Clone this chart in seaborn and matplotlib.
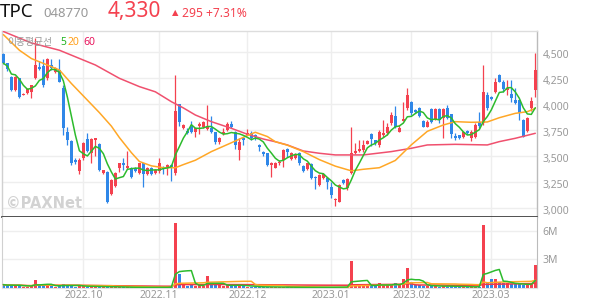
import numpy as np
import pandas as pd
import matplotlib
matplotlib.use('Agg')
import matplotlib.pyplot as plt
import matplotlib.transforms as mtransforms
import seaborn as sns

sns.set_style('white')
plt.rcParams['font.family'] = ['Noto Sans', 'DejaVu Sans']

# ---------------- data ----------------
opens = [4480, 4395, 4266, 4138, 4250, 4090, 4110, 4115, 4250, 4362,
         4370, 4250, 4378, 4314, 4330, 4154, 3731, 3647, 3465, 3360,
         3481, 3663, 3530, 3655, 3620, 3340, 3346, 3135, 3212, 3390,
         3435, 3385, 3390, 3385, 3337, 3433, 3327, 3390, 3340, 3355,
         3400, 3390, 3420, 3337, 4000, 3770, 3745, 3801, 3737, 3792,
         3785, 3763, 3776, 3730, 3637, 3710, 3753, 3814, 3730, 3561,
         3673, 3705, 3720, 3705, 3609, 3545, 3530, 3420, 3390, 3440,
         3465, 3570, 3475, 3480, 3530, 3410, 3378, 3423, 3305, 3225,
         3290, 3295, 3200, 3075, 3064, 3272, 3192, 3337, 3530, 3550,
         3557, 3622, 3718, 3657, 3609, 3705, 3721, 3817, 3891, 3737,
         3843, 3962, 4026, 3942, 3968, 3840, 3785, 3952, 3859, 3955,
         3865, 3968, 3904, 3698, 3700, 3690, 3745, 3680, 3690, 3827,
         3817, 4090, 4074, 4122, 4282, 4218, 4138, 4096, 4042, 4042,
         3850, 3743, 3968, 4138]
highs = [4490, 4400, 4276, 4270, 4256, 4105, 4160, 4190, 4637, 4420,
         4440, 4445, 4440, 4362, 4440, 4186, 3785, 3660, 3480, 3480,
         3640, 3720, 3680, 3680, 3625, 3370, 3355, 3280, 3345, 3440,
         3480, 3550, 3400, 3400, 3440, 3440, 3400, 3400, 3380, 3480,
         3410, 3430, 3430, 4282, 4005, 3810, 3770, 3840, 3775, 3830,
         3835, 3995, 3890, 3737, 3686, 3770, 3827, 3840, 3740, 3673,
         3686, 3763, 3740, 3715, 3620, 3550, 3535, 3445, 3445, 3460,
         3570, 3580, 3545, 3530, 3545, 3415, 3440, 3440, 3315, 3330,
         3340, 3305, 3250, 3095, 3230, 3280, 3290, 3785, 3625, 3660,
         3657, 3660, 3725, 3660, 3750, 3850, 3820, 3930, 3980, 3800,
         4026, 4160, 4032, 3950, 3975, 3845, 3845, 3960, 3960, 3960,
         3960, 3990, 3910, 3720, 3705, 3740, 3750, 3750, 3820, 3930,
         4378, 4122, 4080, 4250, 4295, 4234, 4234, 4234, 4154, 4050,
         3855, 3880, 4074, 4490]
lows = [4385, 4320, 4130, 4128, 4058, 4085, 4100, 4058, 4240, 4330,
        4170, 4235, 4330, 4300, 4210, 3700, 3610, 3417, 3430, 3330,
        3465, 3540, 3433, 3500, 3360, 3330, 3055, 3128, 3205, 3350,
        3370, 3380, 3290, 3350, 3330, 3200, 3320, 3320, 3330, 3340,
        3330, 3320, 3260, 3320, 3790, 3760, 3715, 3720, 3690, 3710,
        3770, 3750, 3720, 3615, 3615, 3700, 3743, 3775, 3570, 3465,
        3609, 3700, 3660, 3660, 3550, 3500, 3410, 3305, 3385, 3420,
        3400, 3490, 3460, 3470, 3420, 3350, 3370, 3280, 3185, 3215,
        3280, 3185, 3096, 3020, 3060, 3230, 3180, 3330, 3525, 3545,
        3545, 3615, 3600, 3610, 3590, 3690, 3705, 3800, 3770, 3730,
        3835, 3945, 3900, 3915, 3880, 3780, 3780, 3820, 3850, 3820,
        3680, 3860, 3673, 3660, 3670, 3680, 3715, 3645, 3673, 3770,
        3800, 3945, 4045, 4110, 4210, 4122, 4090, 4026, 4000, 3850,
        3685, 3730, 3940, 4074]
closes = [4395, 4340, 4138, 4260, 4074, 4100, 4150, 4186, 4375, 4340,
          4186, 4436, 4352, 4346, 4218, 3770, 3657, 3433, 3442, 3465,
          3625, 3551, 3663, 3673, 3370, 3365, 3064, 3272, 3337, 3433,
          3420, 3410, 3305, 3360, 3433, 3327, 3390, 3327, 3370, 3433,
          3390, 3420, 3390, 3936, 3827, 3801, 3725, 3730, 3769, 3814,
          3827, 3792, 3730, 3641, 3673, 3730, 3814, 3785, 3609, 3641,
          3657, 3720, 3673, 3690, 3585, 3520, 3420, 3440, 3440, 3445,
          3561, 3545, 3530, 3510, 3433, 3360, 3433, 3289, 3290, 3320,
          3330, 3250, 3130, 3090, 3224, 3240, 3282, 3529, 3550, 3570,
          3609, 3647, 3667, 3625, 3731, 3722, 3785, 3897, 3785, 3769,
          3860, 4090, 3914, 3923, 3891, 3785, 3833, 3827, 3955, 3850,
          3952, 3872, 3712, 3680, 3680, 3731, 3721, 3731, 3801, 3795,
          4122, 3962, 4051, 4218, 4218, 4148, 4160, 4058, 4010, 3914,
          3690, 3865, 4035, 4330]
volumes_m = [0.35, 0.25, 0.30, 0.25, 0.30, 0.15, 0.15, 0.20, 0.83, 0.30,
             0.30, 0.30, 0.20, 0.15, 0.20, 0.45, 0.30, 0.25, 0.15, 0.20,
             0.20, 0.15, 0.20, 0.10, 0.15, 0.10, 0.15, 0.12, 0.10, 0.08,
             0.08, 0.10, 0.07, 0.06, 0.08, 0.08, 0.06, 0.06, 0.05, 0.08,
             0.06, 0.07, 0.20, 6.80, 1.45, 0.30, 0.25, 0.30, 0.25, 0.30,
             0.25, 1.25, 0.35, 0.30, 0.30, 0.25, 0.30, 0.25, 0.35, 0.30,
             0.20, 0.15, 0.15, 0.12, 0.10, 0.10, 0.12, 0.10, 0.08, 0.06,
             0.10, 0.08, 0.08, 0.06, 0.08, 0.06, 0.06, 0.08, 0.07, 0.08,
             0.06, 0.07, 0.10, 0.10, 0.10, 0.08, 0.10, 2.86, 0.30, 0.25,
             0.30, 0.25, 0.30, 0.20, 0.55, 0.25, 0.30, 0.30, 0.55, 0.30,
             0.97, 2.10, 0.65, 0.30, 0.30, 0.25, 0.20, 0.20, 0.25, 0.15,
             0.20, 0.15, 0.25, 0.15, 0.12, 0.15, 0.10, 0.12, 0.12, 0.15,
             6.60, 0.65, 0.90, 0.90, 0.65, 0.50, 0.50, 0.40, 0.40, 0.45,
             0.35, 0.30, 0.45, 2.40]

ma20_idx = [0, 4, 7, 12, 14, 17, 22, 24, 27, 29, 32, 34, 37, 40, 43, 45, 48,
            52, 57, 61, 63, 66, 68, 71, 75, 79, 83, 87, 90, 94, 98, 102, 106,
            110, 113, 117, 121, 124, 128, 131, 133]
ma20_val = [4670, 4520, 4440, 4362, 4330, 4200, 4000, 3920, 3790, 3680, 3535,
            3450, 3408, 3390, 3390, 3420, 3462, 3545, 3630, 3700, 3731, 3690,
            3640, 3607, 3545, 3468, 3405, 3360, 3375, 3390, 3460, 3610, 3740,
            3801, 3833, 3827, 3830, 3871, 3913, 3929, 3961]
ma60_idx = [0, 7, 14, 23, 29, 34, 38, 42, 45, 48, 52, 57, 61, 65, 68, 71, 75,
            79, 83, 90, 97, 102, 106, 113, 121, 124, 128, 133]
ma60_val = [4700, 4590, 4520, 4378, 4250, 4170, 4120, 4025, 3965, 3897, 3833,
            3769, 3712, 3666, 3640, 3609, 3551, 3529, 3513, 3513, 3545, 3577,
            3609, 3615, 3609, 3641, 3673, 3721]

month_labels = ['2022.10', '2022.11', '2022.12', '2023.01', '2023.02', '2023.03']
month_start_idx = [20, 39, 61, 82, 102, 122]
price_ticks = [3000, 3250, 3500, 3750, 4000, 4250, 4500]
vol_ticks = [3, 6]
vol_tick_labels = ['3M', '6M']

# ---------------- styling ----------------
RED = '#f4414f'
BLUE = '#2f87e8'
GREEN = '#2dbb2d'
ORANGE = '#ffa726'
PINK = '#f0506e'
GRID = '#eeeeee'
TXT = '#999999'

df = pd.DataFrame({'i': np.arange(len(closes)), 'o': opens, 'h': highs,
                   'l': lows, 'c': closes, 'v': volumes_m})
df['up'] = np.where(df['c'] >= df['o'], 'up', 'down')
df['col'] = np.where(df['up'] == 'up', RED, BLUE)
df['ma5'] = df['c'].rolling(5, min_periods=1).mean()
df['vma5'] = df['v'].rolling(5, min_periods=1).mean()
df['vma20'] = df['v'].rolling(20, min_periods=1).mean()
df['vma60'] = df['v'].rolling(60, min_periods=1).mean()

W, H = 594, 304
fig = plt.figure(figsize=(W / 100, H / 100), dpi=100)
fx = lambda px: px / W
fy = lambda py: 1 - py / H

L, R = 2, 537.3
ax = fig.add_axes([fx(L), fy(217), fx(R - L), (217 - 31) / H])
axv = fig.add_axes([fx(L), fy(288), fx(R - L), (288 - 217) / H])
xlim = (-0.35, 133.5)
shift_down = mtransforms.ScaledTranslation(0, -2 / 100, fig.dpi_scale_trans)

# ---- price panel ----
for m in month_start_idx:
    ax.axvline(m, color=GRID, lw=1, zorder=0)
    axv.axvline(m, color=GRID, lw=1, zorder=0)
for t in price_ticks:
    ax.axhline(t, color=GRID, lw=1, zorder=0)

ax.vlines(df['i'], df['l'], df['h'], colors=df['col'], lw=0.9, zorder=2)
body_bottom = np.minimum(df['o'], df['c'])
body_h = np.maximum(np.abs(df['c'] - df['o']), 9)
ax.bar(df['i'], body_h, bottom=body_bottom, width=0.72, color=df['col'],
       linewidth=0, zorder=3)

sns.lineplot(x=ma60_idx, y=ma60_val, ax=ax, color=PINK, lw=1.1, zorder=4)
sns.lineplot(x=ma20_idx, y=ma20_val, ax=ax, color=ORANGE, lw=1.1, zorder=4)
sns.lineplot(data=df, x='i', y='ma5', ax=ax, color=GREEN, lw=1.1, zorder=5)

ax.set_xlim(*xlim)
ax.set_ylim(2916, 4705)
ax.yaxis.tick_right()
ax.set_yticks(price_ticks)
ax.set_yticklabels([f'{t:,}' for t in price_ticks])
ax.tick_params(axis='y', length=0, pad=4, labelsize=7.5, labelcolor=TXT)
for lab in ax.get_yticklabels():
    lab.set_transform(lab.get_transform() + shift_down)
ax.set_xticks([])
ax.set_xlabel('')
ax.set_ylabel('')
for s, c in [('top', '#dddddd'), ('left', '#d0d0d0'), ('right', '#bbbbbb')]:
    ax.spines[s].set_color(c)
    ax.spines[s].set_linewidth(1)
ax.spines['bottom'].set_color('#333333')
ax.spines['bottom'].set_linewidth(1.2)

ax.text(0.007, 0.03, '©PAXNet', transform=ax.transAxes, fontsize=10.5,
        fontweight='bold', family='DejaVu Sans', color='#d2d2d2',
        ha='left', va='bottom', zorder=1)

# ---- volume panel ----
for t in vol_ticks:
    axv.axhline(t, color=GRID, lw=1, zorder=0)
sns.barplot(data=df, x='i', y='v', hue='up', palette={'up': RED, 'down': BLUE},
            native_scale=True, dodge=False, width=0.65, saturation=1,
            legend=False, ax=axv, zorder=2, linewidth=0)
sns.lineplot(data=df, x='i', y='vma60', ax=axv, color='#f23645', lw=1.1, zorder=4)
sns.lineplot(data=df, x='i', y='vma20', ax=axv, color=ORANGE, lw=1.1, zorder=4)
sns.lineplot(data=df, x='i', y='vma5', ax=axv, color=GREEN, lw=1.1, zorder=5)

axv.set_xlim(*xlim)
axv.set_ylim(0, 7.43)
axv.yaxis.tick_right()
axv.set_yticks(vol_ticks)
axv.set_yticklabels(vol_tick_labels)
axv.set_xticks(month_start_idx)
axv.set_xticklabels(month_labels)
axv.tick_params(axis='y', length=0, pad=4, labelsize=7.5, labelcolor=TXT)
axv.tick_params(axis='x', length=0, pad=1.5, labelsize=7.5, labelcolor=TXT)
axv.set_xlabel('')
axv.set_ylabel('')
axv.spines['top'].set_visible(False)
axv.spines['left'].set_color('#d0d0d0')
axv.spines['right'].set_color('#bbbbbb')
axv.spines['bottom'].set_color('#e0e0e0')

# ---- header ----
fig.text(fx(0), fy(16.7), 'TPC', fontsize=13.5, color='#111111', va='baseline')
fig.text(fx(43), fy(16.7), '048770', fontsize=9.5, color='#999999', va='baseline')
fig.text(fx(108), fy(16.7), '4,330', fontsize=15, color=RED, va='baseline')
fig.text(fx(172), fy(15.5), '▲', fontsize=6, color=RED, va='baseline')
fig.text(fx(182), fy(16.7), '295 +7.31%', fontsize=8.7, color=RED, va='baseline')

# ---- MA legend ----
fig.text(fx(7), fy(45), '이동평균선', fontsize=7,
         family=['Noto Sans CJK KR', 'DejaVu Sans'], color=TXT, va='baseline')
fig.text(fx(60), fy(45), '5', fontsize=7.5, color='#22b522', va='baseline')
fig.text(fx(68), fy(45), '20', fontsize=7.5, color='#ff9f1a', va='baseline')
fig.text(fx(83), fy(45), '60', fontsize=7.5, color='#e8175d', va='baseline')

fig.savefig('out.png', dpi=100)
